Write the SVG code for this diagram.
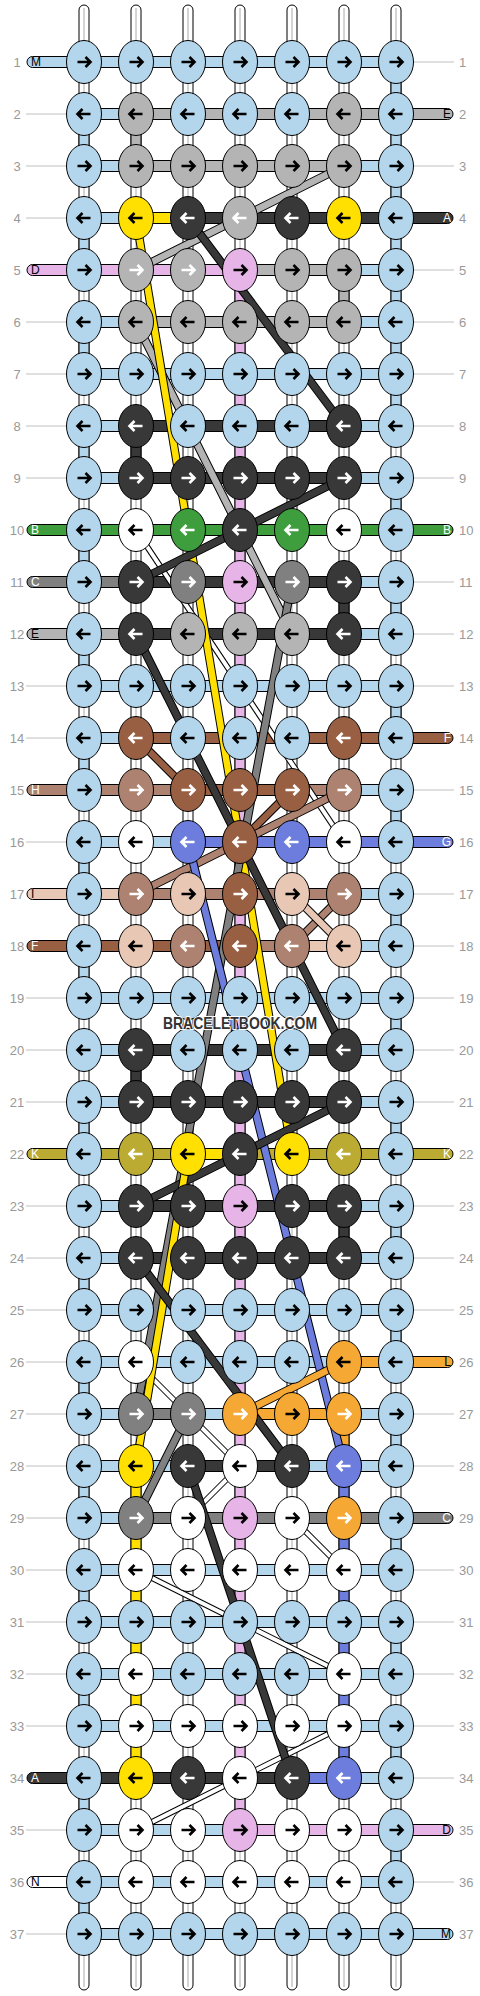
<svg xmlns="http://www.w3.org/2000/svg" xmlns:xlink="http://www.w3.org/1999/xlink" width="480" height="1996" viewBox="0 0 480 1996">
<style>
text{font-family:"Liberation Sans",Arial,sans-serif}
.n{font-size:13px;fill:#999}
.nl{text-anchor:middle}
.t{font-size:12px;fill:#000}
.tr{text-anchor:end}
.tw{fill:#fff}
#con rect{stroke:#000;stroke-width:1}
.L{fill:#b4d6ec;color:#000}
.g{fill:#b4b4b4;color:#000}
.gw{fill:#b4b4b4;color:#fff}
.k{fill:#383838;color:#fff}
.y{fill:#ffe000;color:#000}
.p{fill:#e6b4e6;color:#000}
.G{fill:#3e9e3e;color:#fff}
.c{fill:#808080;color:#fff}
.w{fill:#fff;color:#000}
.f{fill:#985f43;color:#fff}
.h{fill:#ad8270;color:#fff}
.b{fill:#6c7ddd;color:#fff}
.i{fill:#e8c7b4;color:#000}
.o{fill:#bbab32;color:#fff}
.O{fill:#f5a833;color:#000}
.Ow{fill:#f5a833;color:#fff}
.s{fill:none;stroke-width:6.5;stroke-linejoin:round}
.so{stroke:#000;stroke-width:8.5}
.wo{stroke:#000;stroke-width:6}
.ww{stroke:#fff;stroke-width:4}
.sk{stroke:#383838}.sy{stroke:#ffe000}.sg{stroke:#b4b4b4}.sc{stroke:#808080}.sf{stroke:#985f43}.sh{stroke:#ad8270}.si{stroke:#e8c7b4}.sb{stroke:#6c7ddd}.sO{stroke:#f5a833}
.wm{font-size:17px;font-weight:bold;fill:#333;stroke:#fff;stroke-width:2;paint-order:stroke;text-anchor:middle}
</style>
<defs>
<g id="kr"><ellipse rx="17.5" ry="21.5" stroke="#000" stroke-width="1"/><path d="M-6.5,0H6M1.5,-5L6.5,0L1.5,5" fill="none" stroke="currentColor" stroke-width="2.6"/></g>
<g id="kl"><ellipse rx="17.5" ry="21.5" stroke="#000" stroke-width="1"/><path d="M6.5,0H-6M-1.5,-5L-6.5,0L-1.5,5" fill="none" stroke="currentColor" stroke-width="2.6"/></g>
<g id="tube"><rect x="-5" y="5" width="10" height="1985" rx="5" fill="#fff" stroke="#000"/><line x1="0" y1="8" x2="0" y2="1987" stroke="#aaa"/></g>
<rect id="hb" x="99" y="-5.5" width="282" height="11" stroke="#000"/>
<rect id="h" y="-5.5" width="22" height="11" stroke="#000"/>
<rect id="v" x="-5" width="10" height="14" stroke="#000"/>
<path id="tl" d="M70,-5.5H32.5a5.5,5.5 0 0 0 0,11H70z" stroke="#000"/>
<path id="tr" d="M410,-5.5H447.5a5.5,5.5 0 0 1 0,11H410z" stroke="#000"/>
<line id="ll" x1="26" x2="67" stroke="#c0c0c0"/>
<line id="lr" x1="413" x2="454" stroke="#c0c0c0"/>
</defs>
<rect width="480" height="1996" fill="#fff"/>
<g id="labels">
<text class="n nl" x="17" y="67">1</text><text class="n nl" x="17" y="119">2</text><text class="n nl" x="17" y="171">3</text><text class="n nl" x="17" y="223">4</text><text class="n nl" x="17" y="275">5</text><text class="n nl" x="17" y="327">6</text><text class="n nl" x="17" y="379">7</text><text class="n nl" x="17" y="431">8</text><text class="n nl" x="17" y="483">9</text><text class="n nl" x="17" y="535">10</text><text class="n nl" x="17" y="587">11</text><text class="n nl" x="17" y="639">12</text><text class="n nl" x="17" y="691">13</text><text class="n nl" x="17" y="743">14</text><text class="n nl" x="17" y="795">15</text><text class="n nl" x="17" y="847">16</text><text class="n nl" x="17" y="899">17</text><text class="n nl" x="17" y="951">18</text><text class="n nl" x="17" y="1003">19</text><text class="n nl" x="17" y="1055">20</text><text class="n nl" x="17" y="1107">21</text><text class="n nl" x="17" y="1159">22</text><text class="n nl" x="17" y="1211">23</text><text class="n nl" x="17" y="1263">24</text><text class="n nl" x="17" y="1315">25</text><text class="n nl" x="17" y="1367">26</text><text class="n nl" x="17" y="1419">27</text><text class="n nl" x="17" y="1471">28</text><text class="n nl" x="17" y="1523">29</text><text class="n nl" x="17" y="1575">30</text><text class="n nl" x="17" y="1627">31</text><text class="n nl" x="17" y="1679">32</text><text class="n nl" x="17" y="1731">33</text><text class="n nl" x="17" y="1783">34</text><text class="n nl" x="17" y="1835">35</text><text class="n nl" x="17" y="1887">36</text><text class="n nl" x="17" y="1939">37</text>
<text class="n" x="459" y="67">1</text><text class="n" x="459" y="119">2</text><text class="n" x="459" y="171">3</text><text class="n" x="459" y="223">4</text><text class="n" x="459" y="275">5</text><text class="n" x="459" y="327">6</text><text class="n" x="459" y="379">7</text><text class="n" x="459" y="431">8</text><text class="n" x="459" y="483">9</text><text class="n" x="459" y="535">10</text><text class="n" x="459" y="587">11</text><text class="n" x="459" y="639">12</text><text class="n" x="459" y="691">13</text><text class="n" x="459" y="743">14</text><text class="n" x="459" y="795">15</text><text class="n" x="459" y="847">16</text><text class="n" x="459" y="899">17</text><text class="n" x="459" y="951">18</text><text class="n" x="459" y="1003">19</text><text class="n" x="459" y="1055">20</text><text class="n" x="459" y="1107">21</text><text class="n" x="459" y="1159">22</text><text class="n" x="459" y="1211">23</text><text class="n" x="459" y="1263">24</text><text class="n" x="459" y="1315">25</text><text class="n" x="459" y="1367">26</text><text class="n" x="459" y="1419">27</text><text class="n" x="459" y="1471">28</text><text class="n" x="459" y="1523">29</text><text class="n" x="459" y="1575">30</text><text class="n" x="459" y="1627">31</text><text class="n" x="459" y="1679">32</text><text class="n" x="459" y="1731">33</text><text class="n" x="459" y="1783">34</text><text class="n" x="459" y="1835">35</text><text class="n" x="459" y="1887">36</text><text class="n" x="459" y="1939">37</text>
<use href="#ll" y="114"/><use href="#ll" y="166"/><use href="#ll" y="218"/><use href="#ll" y="322"/><use href="#ll" y="374"/><use href="#ll" y="426"/><use href="#ll" y="478"/><use href="#ll" y="686"/><use href="#ll" y="738"/><use href="#ll" y="842"/><use href="#ll" y="998"/><use href="#ll" y="1050"/><use href="#ll" y="1102"/><use href="#ll" y="1206"/><use href="#ll" y="1258"/><use href="#ll" y="1310"/><use href="#ll" y="1362"/><use href="#ll" y="1414"/><use href="#ll" y="1466"/><use href="#ll" y="1518"/><use href="#ll" y="1570"/><use href="#ll" y="1622"/><use href="#ll" y="1674"/><use href="#ll" y="1726"/><use href="#ll" y="1830"/><use href="#ll" y="1934"/>
<use href="#lr" y="62"/><use href="#lr" y="166"/><use href="#lr" y="270"/><use href="#lr" y="322"/><use href="#lr" y="374"/><use href="#lr" y="426"/><use href="#lr" y="478"/><use href="#lr" y="582"/><use href="#lr" y="634"/><use href="#lr" y="686"/><use href="#lr" y="790"/><use href="#lr" y="894"/><use href="#lr" y="946"/><use href="#lr" y="998"/><use href="#lr" y="1050"/><use href="#lr" y="1102"/><use href="#lr" y="1206"/><use href="#lr" y="1258"/><use href="#lr" y="1310"/><use href="#lr" y="1414"/><use href="#lr" y="1466"/><use href="#lr" y="1570"/><use href="#lr" y="1622"/><use href="#lr" y="1674"/><use href="#lr" y="1726"/><use href="#lr" y="1778"/><use href="#lr" y="1882"/>
</g>
<g id="con">
<use href="#tube" x="84"/><use href="#tube" x="136"/><use href="#tube" x="188"/><use href="#tube" x="240"/><use href="#tube" x="292"/><use href="#tube" x="344"/><use href="#tube" x="396"/>
<use href="#hb" y="62" class="L"/><use href="#hb" y="114" class="g"/><use href="#hb" y="166" class="g"/><use href="#hb" y="218" class="k"/><use href="#hb" y="270" class="p"/><use href="#hb" y="322" class="g"/><use href="#hb" y="374" class="L"/><use href="#hb" y="426" class="k"/><use href="#hb" y="478" class="k"/><use href="#hb" y="530" class="G"/><use href="#hb" y="582" class="k"/><use href="#hb" y="634" class="k"/><use href="#hb" y="686" class="L"/><use href="#hb" y="738" class="f"/><use href="#hb" y="790" class="h"/><use href="#hb" y="842" class="b"/><use href="#hb" y="894" class="h"/><use href="#hb" y="946" class="f"/><use href="#hb" y="998" class="L"/><use href="#hb" y="1050" class="k"/><use href="#hb" y="1102" class="k"/><use href="#hb" y="1154" class="o"/><use href="#hb" y="1206" class="k"/><use href="#hb" y="1258" class="k"/><use href="#hb" y="1310" class="L"/><use href="#hb" y="1362" class="L"/><use href="#hb" y="1414" class="L"/><use href="#hb" y="1466" class="L"/><use href="#hb" y="1518" class="c"/><use href="#hb" y="1570" class="L"/><use href="#hb" y="1622" class="L"/><use href="#hb" y="1674" class="L"/><use href="#hb" y="1726" class="L"/><use href="#hb" y="1778" class="k"/><use href="#hb" y="1830" class="L"/><use href="#hb" y="1882" class="L"/><use href="#hb" y="1934" class="L"/>
<use href="#h" x="99" y="114" class="L"/>
<use href="#h" x="99" y="166" class="L"/><use href="#h" x="359" y="166" class="L"/>
<use href="#h" x="99" y="218" class="L"/><use href="#h" x="151" y="218" class="y"/>
<use href="#h" x="255" y="270" class="g"/><use href="#h" x="307" y="270" class="g"/><use href="#h" x="359" y="270" class="L"/>
<use href="#h" x="99" y="322" class="L"/><use href="#h" x="359" y="322" class="L"/>
<use href="#h" x="99" y="426" class="L"/><use href="#h" x="359" y="426" class="L"/>
<use href="#h" x="99" y="478" class="L"/><use href="#h" x="359" y="478" class="L"/>
<use href="#h" x="99" y="582" class="c"/><use href="#h" x="359" y="582" class="L"/>
<use href="#h" x="99" y="634" class="g"/><use href="#h" x="359" y="634" class="L"/>
<use href="#h" x="99" y="738" class="L"/>
<use href="#h" x="203" y="790" class="f"/><use href="#h" x="255" y="790" class="f"/><use href="#h" x="359" y="790" class="L"/>
<use href="#h" x="99" y="842" class="L"/><use href="#h" x="151" y="842" class="L"/>
<use href="#h" x="99" y="894" class="i"/><use href="#h" x="359" y="894" class="L"/>
<use href="#h" x="255" y="946" class="h"/><use href="#h" x="307" y="946" class="i"/><use href="#h" x="359" y="946" class="L"/>
<use href="#h" x="99" y="1050" class="L"/><use href="#h" x="359" y="1050" class="L"/>
<use href="#h" x="99" y="1102" class="L"/><use href="#h" x="359" y="1102" class="L"/>
<use href="#h" x="203" y="1154" class="y"/>
<use href="#h" x="99" y="1206" class="L"/><use href="#h" x="359" y="1206" class="L"/>
<use href="#h" x="99" y="1258" class="L"/><use href="#h" x="359" y="1258" class="L"/>
<use href="#h" x="359" y="1362" class="O"/>
<use href="#h" x="151" y="1414" class="c"/><use href="#h" x="255" y="1414" class="O"/><use href="#h" x="307" y="1414" class="O"/>
<use href="#h" x="203" y="1466" class="k"/><use href="#h" x="255" y="1466" class="k"/>
<use href="#h" x="99" y="1518" class="L"/>
<use href="#h" x="307" y="1778" class="b"/><use href="#h" x="359" y="1778" class="L"/>
<use href="#h" x="255" y="1830" class="p"/><use href="#h" x="307" y="1830" class="p"/><use href="#h" x="359" y="1830" class="p"/>
<rect x="235" y="289" width="10" height="1522" class="p"/>
<rect x="131" y="1485" width="10" height="274" class="y"/>
<rect x="339" y="1485" width="10" height="274" class="b"/>
<rect x="391" y="81" width="10" height="326" class="L"/>
<use href="#v" x="84" y="133" class="L"/><use href="#v" x="84" y="237" class="L"/><use href="#v" x="84" y="341" class="L"/><use href="#v" x="84" y="445" class="L"/><use href="#v" x="84" y="549" class="L"/><use href="#v" x="84" y="653" class="L"/><use href="#v" x="84" y="757" class="L"/><use href="#v" x="84" y="861" class="L"/><use href="#v" x="84" y="965" class="L"/><use href="#v" x="84" y="1121" class="L"/><use href="#v" x="84" y="1277" class="L"/><use href="#v" x="84" y="1381" class="L"/><use href="#v" x="84" y="1485" class="L"/><use href="#v" x="84" y="1589" class="L"/><use href="#v" x="84" y="1693" class="L"/><use href="#v" x="84" y="1797" class="L"/><use href="#v" x="84" y="1901" class="L"/>
<use href="#v" x="396" y="497" class="L"/><use href="#v" x="396" y="601" class="L"/><use href="#v" x="396" y="705" class="L"/><use href="#v" x="396" y="809" class="L"/><use href="#v" x="396" y="913" class="L"/><use href="#v" x="396" y="1017" class="L"/><use href="#v" x="396" y="1121" class="L"/><use href="#v" x="396" y="1225" class="L"/><use href="#v" x="396" y="1329" class="L"/><use href="#v" x="396" y="1433" class="L"/><use href="#v" x="396" y="1537" class="L"/><use href="#v" x="396" y="1641" class="L"/><use href="#v" x="396" y="1745" class="L"/><use href="#v" x="396" y="1849" class="L"/>
<use href="#v" x="136" y="133" class="g"/><use href="#v" x="136" y="445" class="k"/><use href="#v" x="136" y="1069" class="k"/>
<use href="#v" x="344" y="289" class="g"/><use href="#v" x="344" y="601" class="k"/><use href="#v" x="344" y="1225" class="k"/><use href="#v" x="344" y="1433" class="O"/>
<use href="#tl" y="62" class="L"/><use href="#tl" y="270" class="p"/><use href="#tl" y="530" class="G"/><use href="#tl" y="582" class="c"/><use href="#tl" y="634" class="g"/><use href="#tl" y="790" class="h"/><use href="#tl" y="894" class="i"/><use href="#tl" y="946" class="f"/><use href="#tl" y="1154" class="o"/><use href="#tl" y="1778" class="k"/><use href="#tl" y="1882" class="w"/>
<use href="#tr" y="114" class="g"/><use href="#tr" y="218" class="k"/><use href="#tr" y="530" class="G"/><use href="#tr" y="738" class="f"/><use href="#tr" y="842" class="b"/><use href="#tr" y="1154" class="o"/><use href="#tr" y="1362" class="O"/><use href="#tr" y="1518" class="c"/><use href="#tr" y="1830" class="p"/><use href="#tr" y="1934" class="L"/>
<g id="strands">
<polyline class="s wo" points="136,530 344,842"/><polyline class="s ww" points="136,530 344,842"/>
<polyline class="s wo" points="136,1362 240,1466 188,1518"/><polyline class="s ww" points="136,1362 240,1466 188,1518"/>
<polyline class="s wo" points="292,1518 344,1570"/><polyline class="s ww" points="292,1518 344,1570"/>
<polyline class="s wo" points="136,1570 240,1622 344,1674"/><polyline class="s ww" points="136,1570 240,1622 344,1674"/>
<polyline class="s wo" points="344,1726 240,1778 136,1830"/><polyline class="s ww" points="344,1726 240,1778 136,1830"/>
<polyline class="s so" points="344,166 240,218 136,270"/><polyline class="s sg" points="344,166 240,218 136,270"/>
<polyline class="s so" points="136,322 292,634"/><polyline class="s sg" points="136,322 292,634"/>
<polyline class="s so" points="136,218 292,1154"/><polyline class="s sy" points="136,218 292,1154"/>
<polyline class="s so" points="188,218 344,426"/><polyline class="s sk" points="188,218 344,426"/>
<polyline class="s so" points="344,478 240,530 136,582"/><polyline class="s sk" points="344,478 240,530 136,582"/>
<polyline class="s so" points="292,582 136,1414"/><polyline class="s sc" points="292,582 136,1414"/>
<polyline class="s so" points="136,634 344,1050"/><polyline class="s sk" points="136,634 344,1050"/>
<polyline class="s so" points="136,738 188,790"/><polyline class="s sf" points="136,738 188,790"/>
<polyline class="s so" points="292,790 240,842"/><polyline class="s sf" points="292,790 240,842"/>
<polyline class="s so" points="344,790 240,842 136,894"/><polyline class="s sh" points="344,790 240,842 136,894"/>
<polyline class="s so" points="188,842 344,1466"/><polyline class="s sb" points="188,842 344,1466"/>
<polyline class="s so" points="344,894 292,946"/><polyline class="s sh" points="344,894 292,946"/>
<polyline class="s so" points="292,894 344,946"/><polyline class="s si" points="292,894 344,946"/>
<polyline class="s so" points="344,1102 240,1154 136,1206"/><polyline class="s sk" points="344,1102 240,1154 136,1206"/>
<polyline class="s so" points="188,1154 136,1466"/><polyline class="s sy" points="188,1154 136,1466"/>
<polyline class="s so" points="344,1362 240,1414"/><polyline class="s sO" points="344,1362 240,1414"/>
<polyline class="s so" points="136,1258 292,1466"/><polyline class="s sk" points="136,1258 292,1466"/>
<polyline class="s so" points="188,1414 136,1518"/><polyline class="s sc" points="188,1414 136,1518"/>
<polyline class="s so" points="188,1466 292,1778"/><polyline class="s sk" points="188,1466 292,1778"/>
</g>
</g>
<g id="tails">
<text class="t" x="31" y="66">M</text><text class="t" x="31" y="274">D</text><text class="t tw" x="31" y="534">B</text><text class="t tw" x="31" y="586">C</text><text class="t" x="31" y="638">E</text><text class="t tw" x="31" y="794">H</text><text class="t" x="31" y="898">I</text><text class="t tw" x="31" y="950">F</text><text class="t tw" x="31" y="1158">K</text><text class="t tw" x="31" y="1782">A</text><text class="t" x="31" y="1886">N</text>
<text class="t tr" x="451" y="118">E</text><text class="t tr tw" x="451" y="222">A</text><text class="t tr tw" x="451" y="534">B</text><text class="t tr tw" x="451" y="742">F</text><text class="t tr tw" x="451" y="846">G</text><text class="t tr tw" x="451" y="1158">K</text><text class="t tr" x="451" y="1366">L</text><text class="t tr tw" x="451" y="1522">C</text><text class="t tr" x="451" y="1834">D</text><text class="t tr" x="451" y="1938">M</text>
</g>
<g id="knots">
<g id="n1_1"><use href="#kr" x="84" y="62" class="L"/></g><g id="n1_2"><use href="#kr" x="136" y="62" class="L"/></g><g id="n1_3"><use href="#kr" x="188" y="62" class="L"/></g><g id="n1_4"><use href="#kr" x="240" y="62" class="L"/></g><g id="n1_5"><use href="#kr" x="292" y="62" class="L"/></g><g id="n1_6"><use href="#kr" x="344" y="62" class="L"/></g><g id="n1_7"><use href="#kr" x="396" y="62" class="L"/></g>
<g id="n2_1"><use href="#kl" x="84" y="114" class="L"/></g><g id="n2_2"><use href="#kl" x="136" y="114" class="g"/></g><g id="n2_3"><use href="#kl" x="188" y="114" class="L"/></g><g id="n2_4"><use href="#kl" x="240" y="114" class="L"/></g><g id="n2_5"><use href="#kl" x="292" y="114" class="L"/></g><g id="n2_6"><use href="#kl" x="344" y="114" class="g"/></g><g id="n2_7"><use href="#kl" x="396" y="114" class="L"/></g>
<g id="n3_1"><use href="#kr" x="84" y="166" class="L"/></g><g id="n3_2"><use href="#kr" x="136" y="166" class="g"/></g><g id="n3_3"><use href="#kr" x="188" y="166" class="g"/></g><g id="n3_4"><use href="#kr" x="240" y="166" class="g"/></g><g id="n3_5"><use href="#kr" x="292" y="166" class="g"/></g><g id="n3_6"><use href="#kr" x="344" y="166" class="g"/></g><g id="n3_7"><use href="#kr" x="396" y="166" class="L"/></g>
<g id="n4_1"><use href="#kl" x="84" y="218" class="L"/></g><g id="n4_2"><use href="#kl" x="136" y="218" class="y"/></g><g id="n4_3"><use href="#kl" x="188" y="218" class="k"/></g><g id="n4_4"><use href="#kl" x="240" y="218" class="gw"/></g><g id="n4_5"><use href="#kl" x="292" y="218" class="k"/></g><g id="n4_6"><use href="#kl" x="344" y="218" class="y"/></g><g id="n4_7"><use href="#kl" x="396" y="218" class="L"/></g>
<g id="n5_1"><use href="#kr" x="84" y="270" class="L"/></g><g id="n5_2"><use href="#kr" x="136" y="270" class="gw"/></g><g id="n5_3"><use href="#kr" x="188" y="270" class="gw"/></g><g id="n5_4"><use href="#kr" x="240" y="270" class="p"/></g><g id="n5_5"><use href="#kr" x="292" y="270" class="g"/></g><g id="n5_6"><use href="#kr" x="344" y="270" class="g"/></g><g id="n5_7"><use href="#kr" x="396" y="270" class="L"/></g>
<g id="n6_1"><use href="#kl" x="84" y="322" class="L"/></g><g id="n6_2"><use href="#kl" x="136" y="322" class="g"/></g><g id="n6_3"><use href="#kl" x="188" y="322" class="g"/></g><g id="n6_4"><use href="#kl" x="240" y="322" class="g"/></g><g id="n6_5"><use href="#kl" x="292" y="322" class="g"/></g><g id="n6_6"><use href="#kl" x="344" y="322" class="g"/></g><g id="n6_7"><use href="#kl" x="396" y="322" class="L"/></g>
<g id="n7_1"><use href="#kr" x="84" y="374" class="L"/></g><g id="n7_2"><use href="#kr" x="136" y="374" class="L"/></g><g id="n7_3"><use href="#kr" x="188" y="374" class="L"/></g><g id="n7_4"><use href="#kr" x="240" y="374" class="L"/></g><g id="n7_5"><use href="#kr" x="292" y="374" class="L"/></g><g id="n7_6"><use href="#kr" x="344" y="374" class="L"/></g><g id="n7_7"><use href="#kr" x="396" y="374" class="L"/></g>
<g id="n8_1"><use href="#kl" x="84" y="426" class="L"/></g><g id="n8_2"><use href="#kl" x="136" y="426" class="k"/></g><g id="n8_3"><use href="#kl" x="188" y="426" class="L"/></g><g id="n8_4"><use href="#kl" x="240" y="426" class="L"/></g><g id="n8_5"><use href="#kl" x="292" y="426" class="L"/></g><g id="n8_6"><use href="#kl" x="344" y="426" class="k"/></g><g id="n8_7"><use href="#kl" x="396" y="426" class="L"/></g>
<g id="n9_1"><use href="#kr" x="84" y="478" class="L"/></g><g id="n9_2"><use href="#kr" x="136" y="478" class="k"/></g><g id="n9_3"><use href="#kr" x="188" y="478" class="k"/></g><g id="n9_4"><use href="#kr" x="240" y="478" class="k"/></g><g id="n9_5"><use href="#kr" x="292" y="478" class="k"/></g><g id="n9_6"><use href="#kr" x="344" y="478" class="k"/></g><g id="n9_7"><use href="#kr" x="396" y="478" class="L"/></g>
<g id="n10_1"><use href="#kl" x="84" y="530" class="L"/></g><g id="n10_2"><use href="#kl" x="136" y="530" class="w"/></g><g id="n10_3"><use href="#kl" x="188" y="530" class="G"/></g><g id="n10_4"><use href="#kl" x="240" y="530" class="k"/></g><g id="n10_5"><use href="#kl" x="292" y="530" class="G"/></g><g id="n10_6"><use href="#kl" x="344" y="530" class="w"/></g><g id="n10_7"><use href="#kl" x="396" y="530" class="L"/></g>
<g id="n11_1"><use href="#kr" x="84" y="582" class="L"/></g><g id="n11_2"><use href="#kr" x="136" y="582" class="k"/></g><g id="n11_3"><use href="#kr" x="188" y="582" class="c"/></g><g id="n11_4"><use href="#kr" x="240" y="582" class="p"/></g><g id="n11_5"><use href="#kr" x="292" y="582" class="c"/></g><g id="n11_6"><use href="#kr" x="344" y="582" class="k"/></g><g id="n11_7"><use href="#kr" x="396" y="582" class="L"/></g>
<g id="n12_1"><use href="#kl" x="84" y="634" class="L"/></g><g id="n12_2"><use href="#kl" x="136" y="634" class="k"/></g><g id="n12_3"><use href="#kl" x="188" y="634" class="g"/></g><g id="n12_4"><use href="#kl" x="240" y="634" class="g"/></g><g id="n12_5"><use href="#kl" x="292" y="634" class="g"/></g><g id="n12_6"><use href="#kl" x="344" y="634" class="k"/></g><g id="n12_7"><use href="#kl" x="396" y="634" class="L"/></g>
<g id="n13_1"><use href="#kr" x="84" y="686" class="L"/></g><g id="n13_2"><use href="#kr" x="136" y="686" class="L"/></g><g id="n13_3"><use href="#kr" x="188" y="686" class="L"/></g><g id="n13_4"><use href="#kr" x="240" y="686" class="L"/></g><g id="n13_5"><use href="#kr" x="292" y="686" class="L"/></g><g id="n13_6"><use href="#kr" x="344" y="686" class="L"/></g><g id="n13_7"><use href="#kr" x="396" y="686" class="L"/></g>
<g id="n14_1"><use href="#kl" x="84" y="738" class="L"/></g><g id="n14_2"><use href="#kl" x="136" y="738" class="f"/></g><g id="n14_3"><use href="#kl" x="188" y="738" class="L"/></g><g id="n14_4"><use href="#kl" x="240" y="738" class="L"/></g><g id="n14_5"><use href="#kl" x="292" y="738" class="L"/></g><g id="n14_6"><use href="#kl" x="344" y="738" class="f"/></g><g id="n14_7"><use href="#kl" x="396" y="738" class="L"/></g>
<g id="n15_1"><use href="#kr" x="84" y="790" class="L"/></g><g id="n15_2"><use href="#kr" x="136" y="790" class="h"/></g><g id="n15_3"><use href="#kr" x="188" y="790" class="f"/></g><g id="n15_4"><use href="#kr" x="240" y="790" class="f"/></g><g id="n15_5"><use href="#kr" x="292" y="790" class="f"/></g><g id="n15_6"><use href="#kr" x="344" y="790" class="h"/></g><g id="n15_7"><use href="#kr" x="396" y="790" class="L"/></g>
<g id="n16_1"><use href="#kl" x="84" y="842" class="L"/></g><g id="n16_2"><use href="#kl" x="136" y="842" class="w"/></g><g id="n16_3"><use href="#kl" x="188" y="842" class="b"/></g><g id="n16_4"><use href="#kl" x="240" y="842" class="f"/></g><g id="n16_5"><use href="#kl" x="292" y="842" class="b"/></g><g id="n16_6"><use href="#kl" x="344" y="842" class="w"/></g><g id="n16_7"><use href="#kl" x="396" y="842" class="L"/></g>
<g id="n17_1"><use href="#kr" x="84" y="894" class="L"/></g><g id="n17_2"><use href="#kr" x="136" y="894" class="h"/></g><g id="n17_3"><use href="#kr" x="188" y="894" class="i"/></g><g id="n17_4"><use href="#kr" x="240" y="894" class="f"/></g><g id="n17_5"><use href="#kr" x="292" y="894" class="i"/></g><g id="n17_6"><use href="#kr" x="344" y="894" class="h"/></g><g id="n17_7"><use href="#kr" x="396" y="894" class="L"/></g>
<g id="n18_1"><use href="#kl" x="84" y="946" class="L"/></g><g id="n18_2"><use href="#kl" x="136" y="946" class="i"/></g><g id="n18_3"><use href="#kl" x="188" y="946" class="h"/></g><g id="n18_4"><use href="#kl" x="240" y="946" class="f"/></g><g id="n18_5"><use href="#kl" x="292" y="946" class="h"/></g><g id="n18_6"><use href="#kl" x="344" y="946" class="i"/></g><g id="n18_7"><use href="#kl" x="396" y="946" class="L"/></g>
<g id="n19_1"><use href="#kr" x="84" y="998" class="L"/></g><g id="n19_2"><use href="#kr" x="136" y="998" class="L"/></g><g id="n19_3"><use href="#kr" x="188" y="998" class="L"/></g><g id="n19_4"><use href="#kr" x="240" y="998" class="L"/></g><g id="n19_5"><use href="#kr" x="292" y="998" class="L"/></g><g id="n19_6"><use href="#kr" x="344" y="998" class="L"/></g><g id="n19_7"><use href="#kr" x="396" y="998" class="L"/></g>
<g id="n20_1"><use href="#kl" x="84" y="1050" class="L"/></g><g id="n20_2"><use href="#kl" x="136" y="1050" class="k"/></g><g id="n20_3"><use href="#kl" x="188" y="1050" class="L"/></g><g id="n20_4"><use href="#kl" x="240" y="1050" class="L"/></g><g id="n20_5"><use href="#kl" x="292" y="1050" class="L"/></g><g id="n20_6"><use href="#kl" x="344" y="1050" class="k"/></g><g id="n20_7"><use href="#kl" x="396" y="1050" class="L"/></g>
<g id="n21_1"><use href="#kr" x="84" y="1102" class="L"/></g><g id="n21_2"><use href="#kr" x="136" y="1102" class="k"/></g><g id="n21_3"><use href="#kr" x="188" y="1102" class="k"/></g><g id="n21_4"><use href="#kr" x="240" y="1102" class="k"/></g><g id="n21_5"><use href="#kr" x="292" y="1102" class="k"/></g><g id="n21_6"><use href="#kr" x="344" y="1102" class="k"/></g><g id="n21_7"><use href="#kr" x="396" y="1102" class="L"/></g>
<g id="n22_1"><use href="#kl" x="84" y="1154" class="L"/></g><g id="n22_2"><use href="#kl" x="136" y="1154" class="o"/></g><g id="n22_3"><use href="#kl" x="188" y="1154" class="y"/></g><g id="n22_4"><use href="#kl" x="240" y="1154" class="k"/></g><g id="n22_5"><use href="#kl" x="292" y="1154" class="y"/></g><g id="n22_6"><use href="#kl" x="344" y="1154" class="o"/></g><g id="n22_7"><use href="#kl" x="396" y="1154" class="L"/></g>
<g id="n23_1"><use href="#kr" x="84" y="1206" class="L"/></g><g id="n23_2"><use href="#kr" x="136" y="1206" class="k"/></g><g id="n23_3"><use href="#kr" x="188" y="1206" class="k"/></g><g id="n23_4"><use href="#kr" x="240" y="1206" class="p"/></g><g id="n23_5"><use href="#kr" x="292" y="1206" class="k"/></g><g id="n23_6"><use href="#kr" x="344" y="1206" class="k"/></g><g id="n23_7"><use href="#kr" x="396" y="1206" class="L"/></g>
<g id="n24_1"><use href="#kl" x="84" y="1258" class="L"/></g><g id="n24_2"><use href="#kl" x="136" y="1258" class="k"/></g><g id="n24_3"><use href="#kl" x="188" y="1258" class="k"/></g><g id="n24_4"><use href="#kl" x="240" y="1258" class="k"/></g><g id="n24_5"><use href="#kl" x="292" y="1258" class="k"/></g><g id="n24_6"><use href="#kl" x="344" y="1258" class="k"/></g><g id="n24_7"><use href="#kl" x="396" y="1258" class="L"/></g>
<g id="n25_1"><use href="#kr" x="84" y="1310" class="L"/></g><g id="n25_2"><use href="#kr" x="136" y="1310" class="L"/></g><g id="n25_3"><use href="#kr" x="188" y="1310" class="L"/></g><g id="n25_4"><use href="#kr" x="240" y="1310" class="L"/></g><g id="n25_5"><use href="#kr" x="292" y="1310" class="L"/></g><g id="n25_6"><use href="#kr" x="344" y="1310" class="L"/></g><g id="n25_7"><use href="#kr" x="396" y="1310" class="L"/></g>
<g id="n26_1"><use href="#kl" x="84" y="1362" class="L"/></g><g id="n26_2"><use href="#kl" x="136" y="1362" class="w"/></g><g id="n26_3"><use href="#kl" x="188" y="1362" class="L"/></g><g id="n26_4"><use href="#kl" x="240" y="1362" class="L"/></g><g id="n26_5"><use href="#kl" x="292" y="1362" class="L"/></g><g id="n26_6"><use href="#kl" x="344" y="1362" class="O"/></g><g id="n26_7"><use href="#kl" x="396" y="1362" class="L"/></g>
<g id="n27_1"><use href="#kr" x="84" y="1414" class="L"/></g><g id="n27_2"><use href="#kr" x="136" y="1414" class="c"/></g><g id="n27_3"><use href="#kr" x="188" y="1414" class="c"/></g><g id="n27_4"><use href="#kr" x="240" y="1414" class="Ow"/></g><g id="n27_5"><use href="#kr" x="292" y="1414" class="O"/></g><g id="n27_6"><use href="#kr" x="344" y="1414" class="Ow"/></g><g id="n27_7"><use href="#kr" x="396" y="1414" class="L"/></g>
<g id="n28_1"><use href="#kl" x="84" y="1466" class="L"/></g><g id="n28_2"><use href="#kl" x="136" y="1466" class="y"/></g><g id="n28_3"><use href="#kl" x="188" y="1466" class="k"/></g><g id="n28_4"><use href="#kl" x="240" y="1466" class="w"/></g><g id="n28_5"><use href="#kl" x="292" y="1466" class="k"/></g><g id="n28_6"><use href="#kl" x="344" y="1466" class="b"/></g><g id="n28_7"><use href="#kl" x="396" y="1466" class="L"/></g>
<g id="n29_1"><use href="#kr" x="84" y="1518" class="L"/></g><g id="n29_2"><use href="#kr" x="136" y="1518" class="c"/></g><g id="n29_3"><use href="#kr" x="188" y="1518" class="w"/></g><g id="n29_4"><use href="#kr" x="240" y="1518" class="p"/></g><g id="n29_5"><use href="#kr" x="292" y="1518" class="w"/></g><g id="n29_6"><use href="#kr" x="344" y="1518" class="Ow"/></g><g id="n29_7"><use href="#kr" x="396" y="1518" class="L"/></g>
<g id="n30_1"><use href="#kl" x="84" y="1570" class="L"/></g><g id="n30_2"><use href="#kl" x="136" y="1570" class="w"/></g><g id="n30_3"><use href="#kl" x="188" y="1570" class="w"/></g><g id="n30_4"><use href="#kl" x="240" y="1570" class="w"/></g><g id="n30_5"><use href="#kl" x="292" y="1570" class="w"/></g><g id="n30_6"><use href="#kl" x="344" y="1570" class="w"/></g><g id="n30_7"><use href="#kl" x="396" y="1570" class="L"/></g>
<g id="n31_1"><use href="#kr" x="84" y="1622" class="L"/></g><g id="n31_2"><use href="#kr" x="136" y="1622" class="L"/></g><g id="n31_3"><use href="#kr" x="188" y="1622" class="L"/></g><g id="n31_4"><use href="#kr" x="240" y="1622" class="L"/></g><g id="n31_5"><use href="#kr" x="292" y="1622" class="L"/></g><g id="n31_6"><use href="#kr" x="344" y="1622" class="L"/></g><g id="n31_7"><use href="#kr" x="396" y="1622" class="L"/></g>
<g id="n32_1"><use href="#kl" x="84" y="1674" class="L"/></g><g id="n32_2"><use href="#kl" x="136" y="1674" class="w"/></g><g id="n32_3"><use href="#kl" x="188" y="1674" class="L"/></g><g id="n32_4"><use href="#kl" x="240" y="1674" class="L"/></g><g id="n32_5"><use href="#kl" x="292" y="1674" class="L"/></g><g id="n32_6"><use href="#kl" x="344" y="1674" class="w"/></g><g id="n32_7"><use href="#kl" x="396" y="1674" class="L"/></g>
<g id="n33_1"><use href="#kr" x="84" y="1726" class="L"/></g><g id="n33_2"><use href="#kr" x="136" y="1726" class="w"/></g><g id="n33_3"><use href="#kr" x="188" y="1726" class="w"/></g><g id="n33_4"><use href="#kr" x="240" y="1726" class="w"/></g><g id="n33_5"><use href="#kr" x="292" y="1726" class="w"/></g><g id="n33_6"><use href="#kr" x="344" y="1726" class="w"/></g><g id="n33_7"><use href="#kr" x="396" y="1726" class="L"/></g>
<g id="n34_1"><use href="#kl" x="84" y="1778" class="L"/></g><g id="n34_2"><use href="#kl" x="136" y="1778" class="y"/></g><g id="n34_3"><use href="#kl" x="188" y="1778" class="k"/></g><g id="n34_4"><use href="#kl" x="240" y="1778" class="w"/></g><g id="n34_5"><use href="#kl" x="292" y="1778" class="k"/></g><g id="n34_6"><use href="#kl" x="344" y="1778" class="b"/></g><g id="n34_7"><use href="#kl" x="396" y="1778" class="L"/></g>
<g id="n35_1"><use href="#kr" x="84" y="1830" class="L"/></g><g id="n35_2"><use href="#kr" x="136" y="1830" class="w"/></g><g id="n35_3"><use href="#kr" x="188" y="1830" class="w"/></g><g id="n35_4"><use href="#kr" x="240" y="1830" class="p"/></g><g id="n35_5"><use href="#kr" x="292" y="1830" class="w"/></g><g id="n35_6"><use href="#kr" x="344" y="1830" class="w"/></g><g id="n35_7"><use href="#kr" x="396" y="1830" class="L"/></g>
<g id="n36_1"><use href="#kl" x="84" y="1882" class="L"/></g><g id="n36_2"><use href="#kl" x="136" y="1882" class="w"/></g><g id="n36_3"><use href="#kl" x="188" y="1882" class="w"/></g><g id="n36_4"><use href="#kl" x="240" y="1882" class="w"/></g><g id="n36_5"><use href="#kl" x="292" y="1882" class="w"/></g><g id="n36_6"><use href="#kl" x="344" y="1882" class="w"/></g><g id="n36_7"><use href="#kl" x="396" y="1882" class="L"/></g>
<g id="n37_1"><use href="#kr" x="84" y="1934" class="L"/></g><g id="n37_2"><use href="#kr" x="136" y="1934" class="L"/></g><g id="n37_3"><use href="#kr" x="188" y="1934" class="L"/></g><g id="n37_4"><use href="#kr" x="240" y="1934" class="L"/></g><g id="n37_5"><use href="#kr" x="292" y="1934" class="L"/></g><g id="n37_6"><use href="#kr" x="344" y="1934" class="L"/></g><g id="n37_7"><use href="#kr" x="396" y="1934" class="L"/></g>
</g>
<text class="wm" x="240" y="1029" textLength="154" lengthAdjust="spacingAndGlyphs">BRACELETBOOK.COM</text>
</svg>
